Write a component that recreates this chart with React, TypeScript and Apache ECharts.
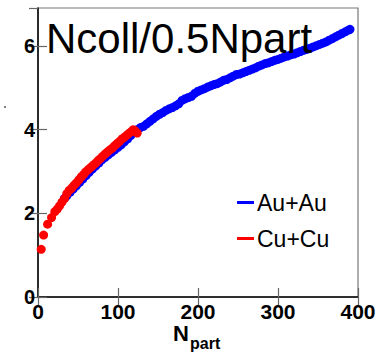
import React, { useEffect, useRef } from "react";
import * as echarts from "echarts";

const auNpart = [33, 36, 40, 44, 48, 52, 56, 60, 64, 68, 72, 76, 80, 84, 88, 92, 96, 100, 104, 108, 112, 116, 120, 124, 128, 132, 136, 140, 144, 148, 152, 156, 160, 164, 168, 172, 176, 180, 184, 188, 192, 196, 200, 204, 208, 212, 216, 220, 224, 228, 232, 236, 240, 244, 248, 252, 256, 260, 264, 268, 272, 276, 280, 284, 288, 292, 296, 300, 304, 308, 312, 316, 320, 324, 328, 332, 336, 340, 344, 348, 352, 356, 360, 364, 368, 372, 376, 380, 384, 388, 390];
const auRatio = [2.36, 2.42, 2.5, 2.58, 2.66, 2.74, 2.82, 2.9, 2.98, 3.06, 3.13, 3.2, 3.28, 3.34, 3.4, 3.46, 3.52, 3.58, 3.64, 3.71, 3.78, 3.86, 3.93, 4.0, 4.05, 4.08, 4.14, 4.2, 4.26, 4.32, 4.37, 4.41, 4.46, 4.5, 4.53, 4.57, 4.62, 4.7, 4.74, 4.77, 4.8, 4.87, 4.92, 4.95, 4.98, 5.02, 5.05, 5.08, 5.1, 5.14, 5.18, 5.2, 5.24, 5.28, 5.32, 5.33, 5.36, 5.39, 5.42, 5.45, 5.48, 5.52, 5.55, 5.58, 5.6, 5.63, 5.66, 5.68, 5.71, 5.74, 5.76, 5.79, 5.81, 5.84, 5.87, 5.9, 5.92, 5.95, 5.98, 6.01, 6.04, 6.07, 6.1, 6.14, 6.18, 6.22, 6.26, 6.3, 6.34, 6.38, 6.4];

const cuNpart = [4, 7, 12, 17, 21, 24, 27, 30, 33, 36, 39, 42, 45, 48, 51, 54, 57, 60, 63, 66, 69, 72, 75, 78, 81, 84, 87, 90, 93, 96, 99, 102, 105, 108, 111, 114, 117, 119, 121, 124];
const cuRatio = [1.14, 1.48, 1.74, 1.9, 2.04, 2.1, 2.18, 2.27, 2.35, 2.47, 2.55, 2.6, 2.67, 2.73, 2.8, 2.87, 2.93, 3.0, 3.05, 3.1, 3.15, 3.2, 3.26, 3.31, 3.37, 3.42, 3.47, 3.52, 3.56, 3.62, 3.67, 3.72, 3.78, 3.82, 3.87, 3.92, 3.96, 4.0, 3.98, 3.92];

const xTicks = [0, 100, 200, 300, 400];
const yTicks = [0, 2, 4, 6];
const yMax = 6.91;
const seriesNames = ["Au+Au", "Cu+Cu"];
const titleText = "Ncoll/0.5Npart";

const FONT = "Liberation Sans, Arial, Helvetica, sans-serif";

export default function App() {
  const ref = useRef<HTMLDivElement>(null);
  useEffect(() => {
    if (!ref.current) return;
    const chart = echarts.init(ref.current, null, { renderer: "svg" });
    const au = auNpart.map((n, i) => [n, auRatio[i]]);
    const cu = cuNpart.map((n, i) => [n, cuRatio[i]]);
    const tickStyle = { show: true, inside: true, length: 9, lineStyle: { color: "#666", width: 1.2 } };
    chart.setOption({
      animation: false,
      grid: [{ left: 38, right: 31, top: 8, bottom: 57, show: true, borderColor: "#777", borderWidth: 1.2 }],
      legend: {
        orient: "vertical",
        left: 232,
        top: 186,
        itemWidth: 17,
        itemHeight: 3,
        itemGap: 13,
        icon: "rect",
        data: seriesNames,
        textStyle: { fontFamily: FONT, fontSize: 23, color: "#000", padding: [0, 0, 0, -2] },
      },
      xAxis: [
        {
          type: "value",
          min: xTicks[0],
          max: xTicks[xTicks.length - 1],
          interval: 100,
          axisLine: { show: true, lineStyle: { color: "#000", width: 1.5 } },
          axisTick: tickStyle,
          splitLine: { show: false },
          axisLabel: { fontFamily: FONT, fontSize: 21, fontWeight: "bold", color: "#000", margin: 4 },
        },
        {
          type: "value",
          position: "top",
          min: xTicks[0],
          max: xTicks[xTicks.length - 1],
          interval: 100,
          axisLine: { show: false },
          axisTick: tickStyle,
          splitLine: { show: false },
          axisLabel: { show: false },
        },
      ],
      yAxis: [
        {
          type: "value",
          min: yTicks[0],
          max: yMax,
          interval: 2,
          axisLine: { show: true, lineStyle: { color: "#000", width: 1.5 } },
          axisTick: tickStyle,
          splitLine: { show: false },
          axisLabel: {
            fontFamily: FONT,
            fontSize: 20,
            fontWeight: "bold",
            color: "#000",
            margin: 3,
            padding: [5, 0, 0, 0],
            showMaxLabel: false,
            formatter: (v: number) => (yTicks.includes(v) ? String(v) : ""),
          },
        },
        {
          type: "value",
          position: "right",
          min: yTicks[0],
          max: yMax,
          interval: 2,
          axisLine: { show: false },
          axisTick: tickStyle,
          splitLine: { show: false },
          axisLabel: { show: false },
        },
      ],
      series: [
        {
          name: seriesNames[0],
          type: "scatter",
          data: au,
          symbol: "circle",
          symbolSize: 9,
          itemStyle: { color: "#0000ff", opacity: 1 },
          z: 2,
        },
        {
          name: seriesNames[1],
          type: "scatter",
          data: cu,
          symbol: "circle",
          symbolSize: 9,
          itemStyle: { color: "#ff0000", opacity: 1 },
          z: 3,
        },
      ],
      graphic: [
        {
          type: "text",
          x: 46,
          y: 38,
          z: 100,
          style: { text: titleText, fontFamily: FONT, fontSize: 42, fill: "#000", verticalAlign: "middle", align: "left" },
        },
        {
          type: "text",
          x: 173,
          y: 333,
          z: 100,
          style: { text: "N", fontFamily: FONT, fontSize: 22, fontWeight: "bold", fill: "#000", verticalAlign: "middle", align: "left" },
        },
        {
          type: "text",
          x: 190,
          y: 343,
          z: 100,
          style: { text: "part", fontFamily: FONT, fontSize: 16, fontWeight: "bold", fill: "#000", verticalAlign: "middle", align: "left" },
        },
        {
          type: "circle",
          shape: { cx: 5, cy: 107, r: 0.8 },
          style: { fill: "#333" },
        },
      ],
    });
    return () => chart.dispose();
  }, []);
  return <div ref={ref} style={{ width: 389, height: 354, position: "absolute", left: 0, top: 0 }} />;
}
